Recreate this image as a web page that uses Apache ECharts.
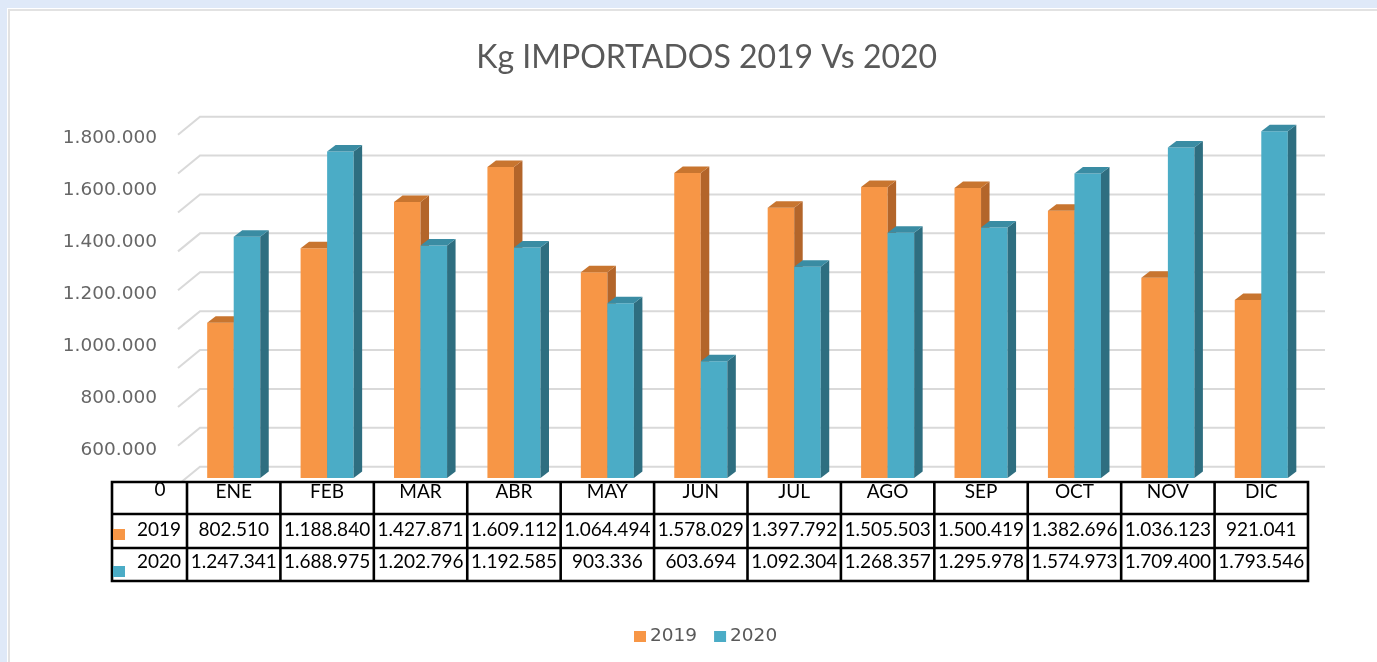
<!DOCTYPE html>
<html>
<head>
<meta charset="utf-8">
<style>
  html, body { margin: 0; padding: 0; background: #dfe9f8; }
  #chart { width: 1377px; height: 662px; }
</style>
<script src="https://cdn.jsdelivr.net/npm/echarts@6/dist/echarts.min.js"></script>
</head>
<body>
<div id="chart"></div>
<script>
const months = ['ENE', 'FEB', 'MAR', 'ABR', 'MAY', 'JUN', 'JUL', 'AGO', 'SEP', 'OCT', 'NOV', 'DIC']
const seriesNames = ['2019', '2020']
const kg2019 = [802510, 1188840, 1427871, 1609112, 1064494, 1578029, 1397792, 1505503, 1500419, 1382696, 1036123, 921041]
const kg2020 = [1247341, 1688975, 1202796, 1192585, 903336, 603694, 1092304, 1268357, 1295978, 1574973, 1709400, 1793546]
const wallTicks = [0, 200000, 400000, 600000, 800000, 1000000, 1200000, 1400000, 1600000, 1800000]

const colors = {
  front: ['#f79646', '#4bacc6'],
  side: ['#b3652a', '#2e6e80'],
  top: ['#c8752f', '#3a8ca3'],
}

// table layout (category columns share the bar grid's x range)
const tbl = { left: 112, colLeft: 187, right: 1308, top: 482, row1: 514, row2: 548, bottom: 581 }
const DX = 8.5
const DY = 6.5

function fmt(v) {
  return String(v).replace(/\B(?=(\d{3})+(?!\d))/g, '.')
}

function barRenderer(idx) {
  return function (params, api) {
    const top = api.coord([api.value(0), api.value(1)])
    const base = api.coord([api.value(0), 0])
    const band = api.size([1, 0])[0]
    const w = band * 0.284
    const x0 = idx === 0 ? top[0] - w : top[0]
    const x1 = x0 + w
    const yT = top[1]
    const yB = base[1]
    return {
      type: 'group',
      children: [
        { type: 'rect', shape: { x: x0, y: yT, width: w, height: yB - yT }, style: { fill: colors.front[idx] } },
        { type: 'polygon', shape: { points: [[x1, yT], [x1 + DX, yT - DY], [x1 + DX, yB - DY], [x1, yB]] }, style: { fill: colors.side[idx] } },
        { type: 'polygon', shape: { points: [[x0, yT], [x0 + DX, yT - DY], [x1 + DX, yT - DY], [x1, yT]] }, style: { fill: colors.top[idx] } },
      ],
    }
  }
}

function wallRenderer(params, api) {
  const p0 = api.coord([0, api.value(1)])
  const p1 = api.coord([1, api.value(1)])
  return {
    type: 'polyline',
    shape: { points: [[p0[0] - 22, p0[1] + 18], p0, p1] },
    style: { stroke: '#d9d9d9', lineWidth: 2, fill: null },
  }
}

const tableFont = { fontFamily: 'Lato', fontSize: 19, color: '#000' }
const border = { stroke: '#000', lineWidth: 2.6 }

// table borders
const colW = (tbl.right - tbl.colLeft) / months.length
const tableGraphics = [
  { type: 'rect', z: 5, shape: { x: tbl.left, y: tbl.top, width: tbl.right - tbl.left, height: tbl.bottom - tbl.top }, style: { fill: '#fff', ...border } },
  { type: 'line', z: 6, shape: { x1: tbl.left, y1: tbl.row1, x2: tbl.right, y2: tbl.row1 }, style: border },
  { type: 'line', z: 6, shape: { x1: tbl.left, y1: tbl.row2, x2: tbl.right, y2: tbl.row2 }, style: border },
]
for (let k = 0; k < months.length; k++) {
  const x = tbl.colLeft + k * colW
  tableGraphics.push({ type: 'line', z: 6, shape: { x1: x, y1: tbl.top, x2: x, y2: tbl.bottom }, style: border })
}
tableGraphics.push(
  { type: 'text', z: 7, x: 160, y: 490, style: { text: '0', font: '19px Lato', fill: '#000', textAlign: 'center', textVerticalAlign: 'middle' } },
  { type: 'text', z: 7, x: 181, y: 529.5, style: { text: seriesNames[0], font: '19px Lato', fill: '#000', textAlign: 'right', textVerticalAlign: 'middle' } },
  { type: 'text', z: 7, x: 181, y: 561.7, style: { text: seriesNames[1], font: '19px Lato', fill: '#000', textAlign: 'right', textVerticalAlign: 'middle' } },
  { type: 'rect', z: 7, shape: { x: 113, y: 529, width: 12, height: 11 }, style: { fill: colors.front[0] } },
  { type: 'rect', z: 7, shape: { x: 113, y: 566, width: 12, height: 11 }, style: { fill: colors.front[1] } },
)

const chart = echarts.init(document.getElementById('chart'))

const hiddenAxis = { axisLine: { show: false }, axisTick: { show: false }, axisLabel: { show: false }, splitLine: { show: false } }

const option = {
  backgroundColor: '#dfe9f8',
  animation: false,
  color: colors.front,
  title: {
    text: 'Kg IMPORTADOS 2019 Vs 2020',
    left: 701.7,
    top: 37,
    textAlign: 'center',
    textStyle: { fontFamily: 'Lato', fontSize: 32, fontWeight: 'normal', color: '#595959' },
  },
  legend: {
    data: seriesNames,
    left: 629,
    top: 622,
    icon: 'rect',
    itemWidth: 12,
    itemHeight: 11,
    itemGap: 17,
    textStyle: { fontFamily: 'DejaVu Sans', fontSize: 18.5, color: '#595959', padding: [0, 0, 0, -1] },
  },
  graphic: [
    { type: 'rect', z: -10, shape: { x: 7, y: 8, width: 1400, height: 700 }, style: { fill: '#fff' } },
    { type: 'rect', z: -9, shape: { x: 9, y: 10, width: 1400, height: 700 }, style: { fill: null, stroke: '#e2e2e2', lineWidth: 2 } },
    ...tableGraphics,
  ],
  grid: [
    { left: tbl.colLeft, right: 1377 - tbl.right, top: 130, height: 348 },
    { left: 200, right: 52, top: 116.7, height: 350 },
    { left: 160, width: 10, top: 138.3, height: 311.7 },
  ],
  xAxis: [
    {
      type: 'category', gridIndex: 0, data: months, z: 10,
      axisLine: { show: false }, axisTick: { show: false },
      axisLabel: { interval: 0, margin: 13.5, verticalAlign: 'middle', ...tableFont },
    },
    {
      type: 'category', gridIndex: 0, data: months, position: 'bottom', z: 10,
      axisLine: { show: false }, axisTick: { show: false },
      axisLabel: { interval: 0, margin: 51.5, verticalAlign: 'middle', formatter: (v, i) => fmt(kg2019[i]), ...tableFont },
    },
    {
      type: 'category', gridIndex: 0, data: months, position: 'bottom', z: 10,
      axisLine: { show: false }, axisTick: { show: false },
      axisLabel: { interval: 0, margin: 83.7, verticalAlign: 'middle', formatter: (v, i) => fmt(kg2020[i]), ...tableFont },
    },
    { type: 'value', gridIndex: 1, min: 0, max: 1, ...hiddenAxis },
    { type: 'value', gridIndex: 2, min: 0, max: 1, ...hiddenAxis },
  ],
  yAxis: [
    { type: 'value', gridIndex: 0, min: 0, max: 1800000, ...hiddenAxis },
    { type: 'value', gridIndex: 1, min: 0, max: 1800000, ...hiddenAxis },
    {
      type: 'value', gridIndex: 2, min: 600000, max: 1800000, interval: 200000,
      axisLine: { show: false }, axisTick: { show: false }, splitLine: { show: false },
      axisLabel: { margin: 3, formatter: (v) => fmt(v), fontFamily: 'DejaVu Sans', fontSize: 18.5, color: '#666' },
    },
  ],
  series: [
    {
      type: 'custom', name: 'wall', xAxisIndex: 3, yAxisIndex: 1, z: 1, silent: true,
      renderItem: wallRenderer,
      data: wallTicks.map((v) => [0, v]),
    },
    {
      type: 'custom', name: seriesNames[0], xAxisIndex: 0, yAxisIndex: 0, z: 2,
      itemStyle: { color: colors.front[0] },
      renderItem: barRenderer(0),
      data: kg2019.map((v, i) => [i, v]),
    },
    {
      type: 'custom', name: seriesNames[1], xAxisIndex: 0, yAxisIndex: 0, z: 3,
      itemStyle: { color: colors.front[1] },
      renderItem: barRenderer(1),
      data: kg2020.map((v, i) => [i, v]),
    },
  ],
}

chart.setOption(option)
</script>
</body>
</html>
